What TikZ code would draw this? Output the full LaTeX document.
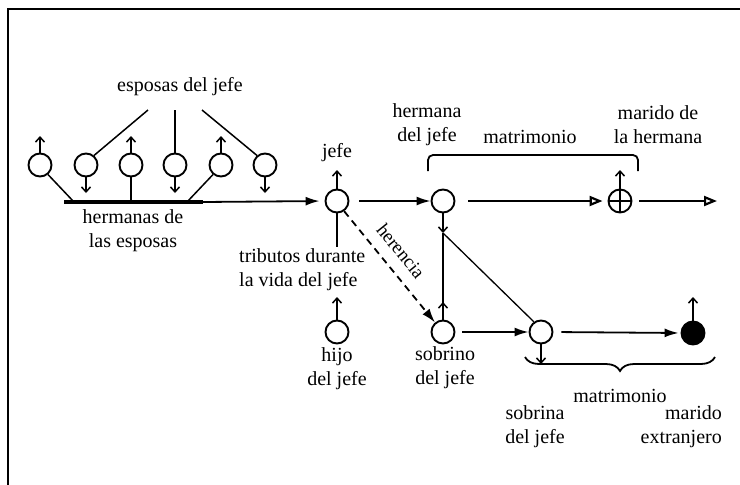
\documentclass[tikz,border=0pt]{standalone}
\usepackage{fontspec}
\setmainfont{Liberation Serif}
\usetikzlibrary{arrows.meta,decorations.pathreplacing,calc}
\begin{document}
\begin{tikzpicture}[x=1pt,y=-1pt,
  per/.style={circle,draw,line width=1.9pt,minimum size=23pt,inner sep=0pt},
  lbl/.style={font=\fontsize{20}{24}\selectfont,align=center,inner sep=0pt},
  ln/.style={line width=1.5pt},
  conn/.style={line width=1.8pt,-{Latex[length=14pt,width=9pt]}},
  openconn/.style={line width=1.8pt,-{Triangle[open,length=13pt,width=10pt,line width=2.2pt]}},
  sym/.style={line width=1.5pt,-{Straight Barb[length=5pt,width=9pt]}},
  frame/.style={line width=2.2pt}
]
\useasboundingbox (0,0) rectangle (740,485);
% partial frame
\coordinate (f1) at (8,485);
\coordinate (f2) at (8,9);
\coordinate (f3) at (740,9);
\draw[frame] (f1) -- (f2) -- (f3);

% wives / sisters row
\node[per] (w1) at (40,165) {};
\node[per] (w2) at (86,165) {};
\node[per] (w3) at (131,165) {};
\node[per] (w4) at (175,165) {};
\node[per] (w5) at (221,165) {};
\node[per] (w6) at (265,165) {};
\coordinate (s1) at (40,136);
\coordinate (s2) at (86,193);
\coordinate (s3) at (131,136);
\coordinate (s4) at (175,193);
\coordinate (s5) at (221,136);
\coordinate (s6) at (265,193);
\draw[sym] (w1.north) -- (s1);
\draw[sym] (w2.south) -- (s2);
\draw[sym] (w3.north) -- (s3);
\draw[sym] (w4.south) -- (s4);
\draw[sym] (w5.north) -- (s5);
\draw[sym] (w6.south) -- (s6);

% thick bar
\coordinate (barL) at (64,202);
\coordinate (barR) at (203,202);
\coordinate (b1) at (74,202);
\coordinate (b3) at (131,202);
\coordinate (b5) at (187,202);
\draw[line width=3.4pt] (barL) -- (barR);
\draw[ln] (w1.-50) -- (b1);
\draw[ln] (w3.south) -- (b3);
\draw[ln] (w5.-130) -- (b5);

% esposas label and lines
\node[lbl] (esp) at (180,87) {esposas del jefe};
\coordinate (e2) at (148,110);
\coordinate (e4) at (175,110);
\coordinate (e6) at (202,110);
\draw[ln] (e2) -- (w2.50);
\draw[ln] (e4) -- (w4.north);
\draw[ln] (e6) -- (w6.130);
\node[lbl] (herm) at (133,231) {hermanas de\\las esposas};

% jefe
\node[per] (jefe) at (337,201) {};
\coordinate (jup) at (337,170);
\draw[sym] (jefe.north) -- (jup);
\node[lbl] (jefel) at (337,153) {jefe};
\draw[conn,shorten >=5pt] (barR) -- (jefe.west);
\coordinate (jdown) at (337,247);
\draw[line width=1.8pt] (jefe.south) -- (jdown);
\node[lbl,align=left,anchor=west] (trib) at (239,270) {tributos durante\\la vida del jefe};

% hijo
\node[per] (hijo) at (337,332) {};
\coordinate (hup) at (337,297);
\draw[sym] (hijo.north) -- (hup);
\node[lbl] (hijol) at (337,369) {hijo\\del jefe};

% hermana
\node[per] (hna) at (443,201) {};
\node[lbl] (hnal) at (427,124.5) {hermana\\del jefe};
\draw[conn,shorten <=10pt] (jefe.east) -- (hna.west);
\coordinate (hx) at (443,233);
\draw[sym] (hna.south) -- (hx);

% sobrino
\node[per] (sob) at (443,332) {};
\node[lbl] (sobl) at (445,368) {sobrino\\del jefe};
\coordinate (sbup) at (443,302);
\draw[line width=1.8pt] (sob.north) -- (hx);
\draw[sym] (sob.north) -- (sbup);

% herencia
\draw[line width=1.8pt,dash pattern=on 7pt off 5pt,-{Latex[length=14pt,width=9pt]}] (jefe.-55) -- (sob.130);
\node[lbl,rotate=-51,font=\fontsize{19}{22}\selectfont] (her) at (401,251) {herencia};

% sobrina
\node[per] (sna) at (541,332) {};
\coordinate (snd) at (541,364);
\draw[sym] (sna.south) -- (snd);
\draw[line width=1.3pt] (hx) -- (sna.125);
\draw[conn,shorten <=7pt] (sob.east) -- (sna.west);
\node[lbl] (snal) at (535,427) {sobrina\\del jefe};

% marido de la hermana
\node[per] (mar) at (620,201) {};
\draw[line width=1.8pt] (mar.north) -- (mar.south) (mar.west) -- (mar.east);
\coordinate (mup) at (620,170);
\draw[sym] (mar.north) -- (mup);
\draw[openconn,shorten <=13pt,shorten >=5pt] (hna.east) -- (mar.west);
\coordinate (mout) at (717,201);
\draw[openconn,shorten <=7pt] (mar.east) -- (mout);
\node[lbl] (marl) at (658,124.5) {marido de\\la hermana};

% upper bracket
\coordinate (ubl) at (428,171);
\coordinate (ubr) at (638,171);
\draw[line width=1.8pt,rounded corners=5pt] (ubl) -- (428,155) -- (638,155) -- (ubr);
\node[lbl] (mat1) at (530,137) {matrimonio};

% marido extranjero
\node[per,fill=black] (ext) at (693,333) {};
\coordinate (eup) at (693,297);
\draw[sym] (ext.north) -- (eup);
\draw[conn,shorten <=8pt,shorten >=2pt] (sna.east) -- (ext.west);
\node[lbl,align=right,anchor=east] (extl) at (722,427) {marido\\extranjero};

% lower brace
\coordinate (lbl1) at (525,357);
\coordinate (lbr) at (715,357);
\draw[line width=1.8pt,decorate,decoration={brace,mirror,amplitude=14pt}] (lbl1) -- (lbr);
\node[lbl] (mat2) at (620,396) {matrimonio};
\end{tikzpicture}
\end{document}
